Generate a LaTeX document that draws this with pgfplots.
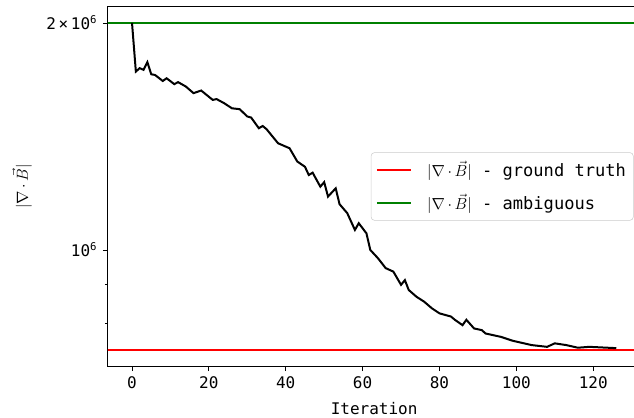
\documentclass[border=0pt]{standalone}
\usepackage{fontspec}
\setmainfont{DejaVu Sans Mono}
\usepackage{pgfplots}
\pgfplotsset{compat=1.18}

\definecolor{mplred}{RGB}{255,0,0}
\definecolor{mplgreen}{RGB}{0,128,0}

\newcommand{\divb}{$|\nabla\,{\cdot}\,\vec{B}|$}

\begin{document}
\fontsize{12}{14.4}\selectfont
\begin{tikzpicture}
\begin{axis}[
  name=ax,
  scale only axis,
  width=399.5pt, height=269.8pt,
  xmin=-6.3, xmax=132.3,
  ymode=log, ymin=701000, ymax=2102000,
  xtick={0,20,...,120},
  ytick={1000000,2000000},
  yticklabels={10\textsuperscript{6}, 2\,×\,10\textsuperscript{6}},
  minor ytick={700000,800000,900000},
  xtick pos=left, ytick pos=left,
  tick align=outside,
  major tick length=3.65pt, minor tick length=2.1pt,
  tick style={black, line width=0.6pt},
  axis line style={line width=0.6pt},
  /pgf/number format/assume math mode=true,
  every tick label/.append style={font=\fontsize{12}{14}\selectfont},
  xlabel={Iteration},
  ylabel={\divb},
  xlabel style={at={(axis description cs:0.5,-0.116)}, anchor=center},
  ylabel style={at={(axis description cs:-0.161,0.5)}, anchor=center},
  legend style={at={(0.987,0.5)}, anchor=east, draw=black!20,
    rounded corners=2.5pt, fill=white, fill opacity=0.8, text opacity=1,
    font=\fontsize{12.8}{15}\selectfont, row sep=8pt, column sep=9.5pt,
    inner xsep=3.5pt, inner ysep=4pt},
  legend cell align=left,
  legend image code/.code={\draw[#1] (0pt,0pt) -- (25.5pt,0pt);},
]
\addplot[mplred, line width=1.5pt] coordinates {(-10,737000) (140,737000)};
\addlegendentry{\divb{} - ground truth}
\addplot[mplgreen, line width=1.5pt] coordinates {(-10,2000000) (140,2000000)};
\addlegendentry{\divb{} - ambiguous}

% divergence per iteration
\addplot[black, line width=1.5pt, forget plot] coordinates {
  (0,2000000) (1,1724000) (2,1742000) (3,1733000) (4,1774000) (5,1710000)
  (6,1706000) (8,1675000) (9,1689000) (11,1659000) (12,1669000)
  (14,1647000) (16,1614000) (18,1627000) (21,1581000) (22,1585000)
  (24,1565000) (26,1541000) (28,1537000) (30,1503000) (31,1498000)
  (33,1450000) (34,1460000) (35,1446000) (38,1385000) (41,1364000)
  (43,1310000) (45,1289000) (46,1257000) (47,1266000) (49,1213000)
  (50,1230000) (51,1177000) (53,1207000) (54,1150000) (56,1119000)
  (58,1063000) (59,1085000) (61,1052000) (62,1000000) (64,975000)
  (66,946000) (68,936000) (70,899000) (71,912000) (72,885000)
  (74,867000) (76,854000) (78,837000) (80,824000) (83,816000)
  (84,808000) (86,795000) (87,808000) (89,787000) (91,783000)
  (92,775000) (96,767000) (99,758000) (104,748000) (108,744000)
  (110,752000) (113,748000) (116,742000) (119,744000) (126,741000)
};
\end{axis}
\pgfresetboundingbox
\path[use as bounding box] ([shift={(-80.85pt,-37.95pt)}]ax.south west)
  rectangle ([shift={(394.65pt,274.8pt)}]ax.south west);
\end{tikzpicture}
\end{document}
